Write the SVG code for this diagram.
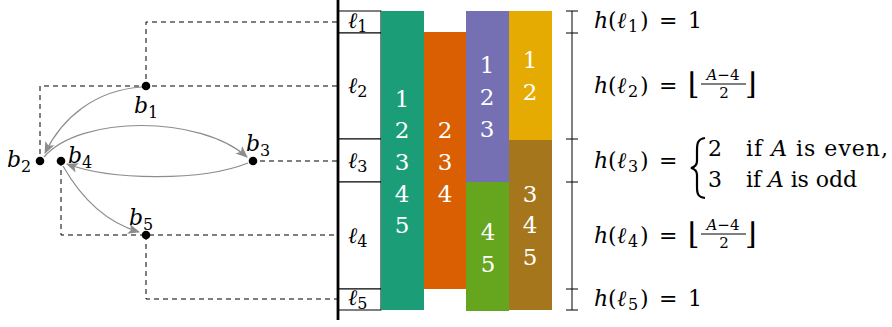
<svg xmlns="http://www.w3.org/2000/svg" width="892" height="327" viewBox="0 0 892 327">
<style>
.m{font-family:'DejaVu Serif','Liberation Serif',serif;font-size:22px;fill:#000}
.i{font-style:italic}
.s{font-size:16px}
.f{font-size:15px}
.fl{font-size:30px}
.d{font-family:'DejaVu Serif','Liberation Serif',serif;font-size:23px;fill:#fff;text-anchor:middle}
.dash{stroke:#000;stroke-width:1;stroke-dasharray:5 4;fill:none}
.arr{stroke:#8c8c8c;stroke-width:1.2;fill:none;marker-end:url(#ah)}
.box{fill:#fff;stroke:#000;stroke-width:1}
.dot{fill:#000}
</style>
<defs>
<marker id="ah" markerUnits="userSpaceOnUse" markerWidth="14" markerHeight="12" viewBox="-12 -6 14 12" refX="0" refY="0" orient="auto">
<path d="M1,0 L-11,-5 L-8,0 L-11,5 Z" fill="#8c8c8c"/>
</marker>
</defs>

<g id="connectors">
<path class="dash" d="M337,22 H146 V86"/>
<path class="dash" d="M337,86 H40 V161"/>
<path class="dash" d="M337,161 H253"/>
<path class="dash" d="M61,161 V235 H337"/>
<path class="dash" d="M146,235 V299 H337"/>
<path class="arr" d="M142,87 C95,90 62,118 45,153"/>
<path class="arr" d="M44,157 C80,115 200,115 247,157"/>
<path class="arr" d="M248,163 C200,182 110,180 67,164"/>
<path class="arr" d="M63,166 C80,196 105,222 139,232"/>
</g>

<g id="b1"><circle class="dot" cx="146" cy="86" r="4.3"/><text class="m i" x="134" y="113">b<tspan class="s" font-style="normal" dy="5">1</tspan></text></g>
<g id="b2"><circle class="dot" cx="40" cy="161" r="4.3"/><text class="m i" x="7" y="167">b<tspan class="s" font-style="normal" dy="5">2</tspan></text></g>
<g id="b3"><circle class="dot" cx="253" cy="161" r="4.3"/><text class="m i" x="246" y="151">b<tspan class="s" font-style="normal" dy="5">3</tspan></text></g>
<g id="b4"><circle class="dot" cx="61" cy="161" r="4.3"/><text class="m i" x="68" y="163">b<tspan class="s" font-style="normal" dy="5">4</tspan></text></g>
<g id="b5"><circle class="dot" cx="146" cy="235" r="4.3"/><text class="m i" x="129" y="225">b<tspan class="s" font-style="normal" dy="5">5</tspan></text></g>

<g id="levels">
<rect class="box" x="338" y="11" width="43" height="22"/>
<rect class="box" x="338" y="33" width="43" height="106"/>
<rect class="box" x="338" y="139" width="43" height="43"/>
<rect class="box" x="338" y="182" width="43" height="107"/>
<rect class="box" x="338" y="289" width="43" height="21"/>
<text class="m i" x="348" y="28">ℓ<tspan class="s" font-style="normal" dy="4">1</tspan></text>
<text class="m i" x="348" y="93">ℓ<tspan class="s" font-style="normal" dy="4">2</tspan></text>
<text class="m i" x="348" y="168">ℓ<tspan class="s" font-style="normal" dy="4">3</tspan></text>
<text class="m i" x="348" y="243">ℓ<tspan class="s" font-style="normal" dy="4">4</tspan></text>
<text class="m i" x="348" y="305">ℓ<tspan class="s" font-style="normal" dy="4">5</tspan></text>
<line x1="338" y1="0" x2="338" y2="320" stroke="#000" stroke-width="2.8"/>
</g>

<g id="bar-teal"><rect x="381" y="11" width="43" height="299" fill="#1b9e77"/>
<text class="d" x="402" y="107">1</text><text class="d" x="402" y="138">2</text><text class="d" x="402" y="170">3</text><text class="d" x="402" y="202">4</text><text class="d" x="402" y="233">5</text></g>
<g id="bar-orange"><rect x="424" y="32" width="43" height="257" fill="#d95f02"/>
<text class="d" x="445" y="138">2</text><text class="d" x="445" y="170">3</text><text class="d" x="445" y="202">4</text></g>
<g id="bar-purple"><rect x="466" y="11" width="43" height="171" fill="#7570b3"/>
<text class="d" x="487" y="73">1</text><text class="d" x="487" y="105">2</text><text class="d" x="487" y="137">3</text></g>
<g id="bar-green"><rect x="466" y="182" width="43" height="129" fill="#66a61e"/>
<text class="d" x="488" y="240">4</text><text class="d" x="488" y="272">5</text></g>
<g id="bar-yellow"><rect x="509" y="11" width="43" height="129" fill="#e6ab02"/>
<text class="d" x="530" y="68">1</text><text class="d" x="530" y="100">2</text></g>
<g id="bar-brown"><rect x="509" y="140" width="43" height="170" fill="#a6761d"/>
<text class="d" x="530" y="202">3</text><text class="d" x="530" y="233">4</text><text class="d" x="530" y="265">5</text></g>

<g id="scale" stroke="#000" stroke-width="1">
<line x1="572" y1="11" x2="572" y2="310"/>
<line x1="566" y1="11" x2="578" y2="11"/>
<line x1="566" y1="33" x2="578" y2="33"/>
<line x1="566" y1="139" x2="578" y2="139"/>
<line x1="566" y1="182" x2="578" y2="182"/>
<line x1="566" y1="289" x2="578" y2="289"/>
<line x1="566" y1="310" x2="578" y2="310"/>
</g>

<g id="h1"><text class="m"><tspan class="i" x="594" y="28">h</tspan><tspan x="608">(</tspan><tspan class="i" x="617">ℓ</tspan><tspan class="s" x="628" y="32">1</tspan><tspan x="640" y="28">)</tspan><tspan x="659">=</tspan><tspan x="688">1</tspan></text></g>
<g id="h2"><text class="m"><tspan class="i" x="594" y="93">h</tspan><tspan x="608">(</tspan><tspan class="i" x="617">ℓ</tspan><tspan class="s" x="628" y="97">2</tspan><tspan x="640" y="93">)</tspan><tspan x="659">=</tspan></text>
<text class="m fl" x="688" y="94">⌊</text>
<text class="m f" x="723" y="80" text-anchor="middle"><tspan class="i">A</tspan>−4</text>
<line x1="701" y1="84" x2="746" y2="84" stroke="#000" stroke-width="1"/>
<text class="m f" x="724" y="98" text-anchor="middle">2</text>
<text class="m fl" x="745" y="94">⌋</text></g>
<g id="h3"><text class="m"><tspan class="i" x="594" y="168">h</tspan><tspan x="608">(</tspan><tspan class="i" x="617">ℓ</tspan><tspan class="s" x="628" y="172">3</tspan><tspan x="640" y="168">)</tspan><tspan x="659">=</tspan></text>
<path d="M705,138 C698,139 697,143 697,150 L697,161 C697,165 695,167 691,168 C695,169 697,171 697,175 L697,187 C697,194 698,197 705,198" fill="none" stroke="#000" stroke-width="2.2"/>
<text class="m"><tspan x="708" y="156">2</tspan><tspan x="746" textLength="142" lengthAdjust="spacing">if <tspan class="i">A</tspan> is even,</tspan></text>
<text class="m"><tspan x="708" y="187">3</tspan><tspan x="746" textLength="111" lengthAdjust="spacing">if <tspan class="i">A</tspan> is odd</tspan></text></g>
<g id="h4"><text class="m"><tspan class="i" x="594" y="243">h</tspan><tspan x="608">(</tspan><tspan class="i" x="617">ℓ</tspan><tspan class="s" x="628" y="247">4</tspan><tspan x="640" y="243">)</tspan><tspan x="659">=</tspan></text>
<text class="m fl" x="688" y="244">⌊</text>
<text class="m f" x="723" y="230" text-anchor="middle"><tspan class="i">A</tspan>−4</text>
<line x1="701" y1="234" x2="746" y2="234" stroke="#000" stroke-width="1"/>
<text class="m f" x="724" y="248" text-anchor="middle">2</text>
<text class="m fl" x="745" y="244">⌋</text></g>
<g id="h5"><text class="m"><tspan class="i" x="594" y="306">h</tspan><tspan x="608">(</tspan><tspan class="i" x="617">ℓ</tspan><tspan class="s" x="628" y="310">5</tspan><tspan x="640" y="306">)</tspan><tspan x="659">=</tspan><tspan x="688">1</tspan></text></g>
</svg>
